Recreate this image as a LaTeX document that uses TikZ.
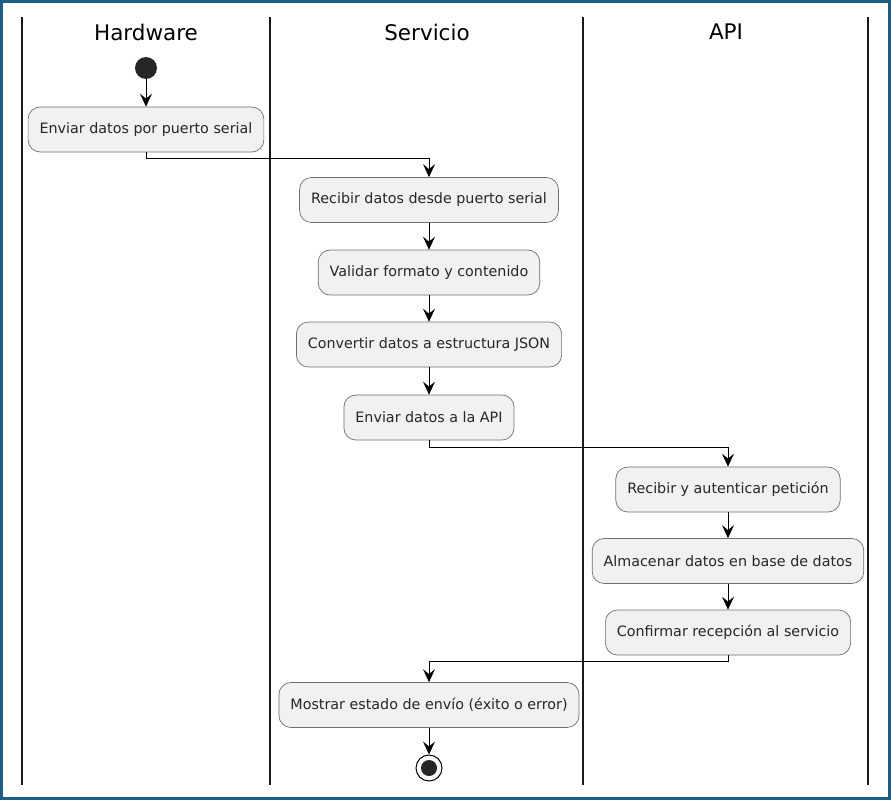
\documentclass[tikz,border=0pt]{standalone}
\usepackage{fontspec}
\setmainfont{DejaVu Sans}
\usetikzlibrary{arrows.meta}
\definecolor{framecol}{RGB}{30,92,132}
\definecolor{actfill}{RGB}{241,241,241}
\definecolor{actline}{RGB}{110,110,110}
\tikzset{
  act/.style={draw=actline, line width=0.7pt, fill=actfill, rounded corners=12pt,
    minimum height=45pt, inner xsep=11.5pt, text=black!85, font=\fontsize{14.3}{17}\selectfont},
  lane/.style={line width=1.6pt, black!90},
  lanetitle/.style={font=\fontsize{21.5}{26}\selectfont},
  flow/.style={line width=0.9pt, -{Stealth[length=13pt,width=12pt,inset=5pt]}},
}
\begin{document}
\begin{tikzpicture}[x=1pt,y=-1pt]
  \useasboundingbox (0,0) rectangle (891,800);
  % outer frame
  \draw[framecol, line width=2.6pt] (1.5,1.5) rectangle (889.5,798.5);
  % swimlane separators
  \foreach \x in {22,270,583,868} \draw[lane] (\x,17) -- (\x,785);
  \node[lanetitle] (hHw) at (146,32) {Hardware};
  \node[lanetitle] (hSv) at (427,32) {Servicio};
  \node[lanetitle] (hApi) at (726,32) {API};

  % start / end
  \node[circle, fill=black!85, minimum size=22pt, inner sep=0] (start) at (146,68) {};
  \node[circle, draw=black, line width=1pt, fill=white, minimum size=26pt, inner sep=0] (stop) at (429,768) {};
  \node[circle, fill=black!85, minimum size=16pt, inner sep=0] at (stop) {};

  % activities
  \node[act] (a1) at (146,129.5) {Enviar datos por puerto serial};
  \node[act] (a2) at (429,200) {Recibir datos desde puerto serial};
  \node[act] (a3) at (429,272.5) {Validar formato y contenido};
  \node[act] (a4) at (429,344.5) {Convertir datos a estructura JSON};
  \node[act] (a5) at (429,417.5) {Enviar datos a la API};
  \node[act] (a6) at (728,489.5) {Recibir y autenticar petición};
  \node[act] (a7) at (728,561) {Almacenar datos en base de datos};
  \node[act] (a8) at (728,632.5) {Confirmar recepción al servicio};
  \node[act] (a9) at (429,705) {Mostrar estado de envío (éxito o error)};

  % flow
  \draw[flow] (start) -- (a1);
  \coordinate (t1) at (146,158);
  \draw[flow] (a1.south) -- (t1) -| (a2.north);
  \draw[flow] (a2) -- (a3);
  \draw[flow] (a3) -- (a4);
  \draw[flow] (a4) -- (a5);
  \coordinate (t2) at (429,447);
  \draw[flow] (a5.south) -- (t2) -| (a6.north);
  \draw[flow] (a6) -- (a7);
  \draw[flow] (a7) -- (a8);
  \coordinate (t3) at (728,661);
  \draw[flow] (a8.south) -- (t3) -| (a9.north);
  \draw[flow] (a9) -- (stop);
\end{tikzpicture}
\end{document}
